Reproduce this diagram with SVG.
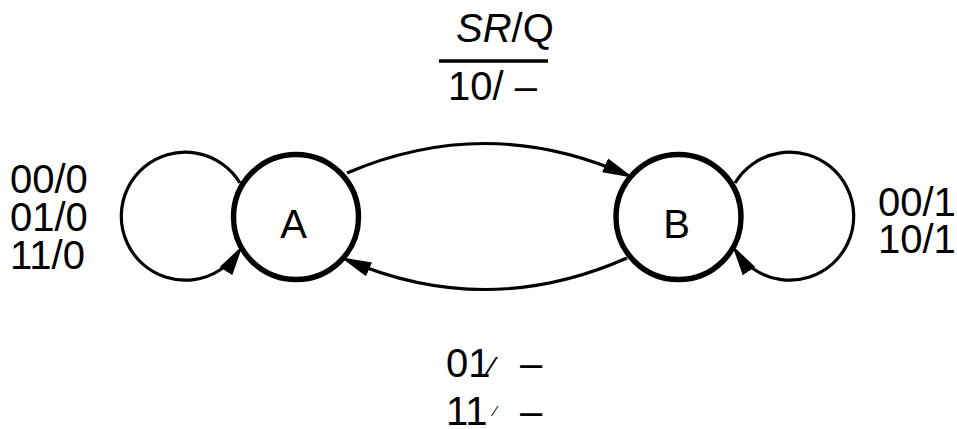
<svg xmlns="http://www.w3.org/2000/svg" width="957" height="429" viewBox="0 0 957 429">
  <style>
    .state { fill: #fff; stroke: #000; stroke-width: 5.5; }
    .edge { fill: none; stroke: #000; stroke-width: 3.2; }
    .lbl { font-family: "Liberation Sans", Arial, sans-serif; font-size: 40px; fill: #000; }
  </style>
  <defs>
    <marker id="arrow" markerUnits="userSpaceOnUse" markerWidth="31" markerHeight="15" refX="24" refY="7.5" orient="auto">
      <path d="M0,0 L31,7.5 L0,15 z" fill="#000"/>
    </marker>
  </defs>

  <rect width="957" height="429" fill="#fff"/>

  <!-- transitions -->
  <g id="connectors">
    <path class="edge" d="M347,173 Q487,113 627,175" marker-end="url(#arrow)"/>
    <path class="edge" d="M627,258 Q487,320 347,260" marker-end="url(#arrow)"/>
    <path class="edge" d="M240,183 A64,64 0 1,0 239,251" marker-end="url(#arrow)"/>
    <path class="edge" d="M735,183 A64,64 0 1,1 736,251" marker-end="url(#arrow)"/>
  </g>

  <!-- states -->
  <g id="state-A">
    <circle class="state" cx="296" cy="217" r="62.5"/>
    <text class="lbl" x="293.5" y="238" text-anchor="middle">A</text>
  </g>
  <g id="state-B">
    <circle class="state" cx="678.5" cy="217" r="62.5"/>
    <text class="lbl" x="676.5" y="238" text-anchor="middle">B</text>
  </g>

  <!-- legend: input SR / output Q -->
  <g id="legend">
    <text class="lbl" x="456" y="42"><tspan font-style="italic">SR</tspan>/Q</text>
    <line x1="439" y1="61" x2="548" y2="61" stroke="#000" stroke-width="3.4"/>
  </g>

  <!-- transition labels -->
  <g id="labels">
    <text class="lbl" x="448" y="100">10/ –</text>

    <text class="lbl" x="10" y="193">00/0</text>
    <text class="lbl" x="10" y="231">01/0</text>
    <text class="lbl" x="10" y="269">11/0</text>

    <text class="lbl" x="878" y="216">00/1</text>
    <text class="lbl" x="878" y="253">10/1</text>

    <text class="lbl" y="377"><tspan x="446">01</tspan><tspan x="489" font-size="30">⁄</tspan><tspan x="520">–</tspan></text>
    <text class="lbl" y="425"><tspan x="446">11</tspan><tspan x="494" y="416" font-size="15">⁄</tspan><tspan x="520" y="425">–</tspan></text>
  </g>
</svg>
